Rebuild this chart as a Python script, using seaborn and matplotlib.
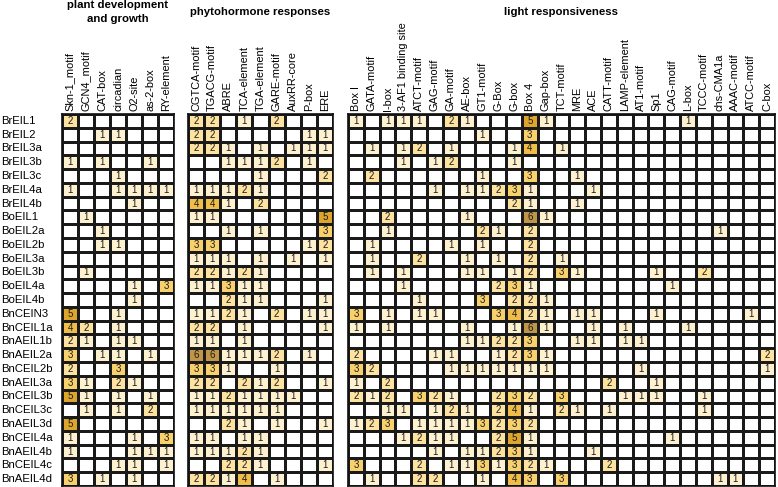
import matplotlib
matplotlib.use("Agg")
import matplotlib.pyplot as plt
import numpy as np
import seaborn as sns
from matplotlib.colors import ListedColormap

genes = [
    "BrEIL1", "BrEIL2", "BrEIL3a", "BrEIL3b", "BrEIL3c", "BrEIL4a", "BrEIL4b",
    "BoEIL1", "BoEIL2a", "BoEIL2b", "BoEIL3a", "BoEIL3b", "BoEIL4a", "BoEIL4b",
    "BnCEIN3", "BnCEIL1a", "BnAEIL1b", "BnAEIL2a", "BnCEIL2b", "BnAEIL3a",
    "BnCEIL3b", "BnCEIL3c", "BnAEIL3d", "BnCEIL4a", "BnAEIL4b", "BnCEIL4c",
    "BnAEIL4d",
]

dev_motifs = ["Skn-1_motif", "GCN4_motif", "CAT-box", "circadian", "O2-site",
              "as-2-box", "RY-element"]
hormone_motifs = ["CGTCA-motif", "TGACG-motif", "ABRE", "TCA-element",
                  "TGA-element", "GARE-motif", "AuxRR-core", "P-box", "ERE"]
light_motifs = ["Box I", "GATA-motif", "I-box", "3-AF1 binding site",
                "ATCT-motif", "GAG-motif", "GA-motif", "AE-box", "GT1-motif",
                "G-Box", "G-box", "Box 4", "Gap-box", "TCT-motif", "MRE", "ACE",
                "CATT-motif", "LAMP-element", "AT1-motif", "Sp1", "CAG-motif",
                "L-box", "TCCC-motif", "chs-CMA1a", "AAAC-motif", "ATCC-motif",
                "C-box"]

dev_counts = [
    [2, 0, 0, 0, 0, 0, 0],
    [0, 0, 1, 1, 0, 0, 0],
    [0, 0, 0, 0, 0, 0, 0],
    [1, 0, 1, 0, 0, 1, 0],
    [0, 0, 0, 1, 0, 0, 0],
    [1, 0, 0, 1, 1, 1, 1],
    [0, 0, 0, 0, 1, 0, 0],
    [0, 1, 0, 0, 0, 0, 0],
    [0, 0, 1, 0, 0, 0, 0],
    [0, 0, 1, 1, 0, 0, 0],
    [0, 0, 0, 0, 0, 0, 0],
    [0, 1, 0, 0, 0, 0, 0],
    [0, 0, 0, 0, 1, 0, 3],
    [0, 0, 0, 0, 1, 0, 0],
    [5, 0, 0, 1, 0, 0, 0],
    [4, 2, 0, 1, 0, 0, 0],
    [2, 1, 0, 1, 1, 0, 0],
    [3, 0, 1, 1, 0, 1, 0],
    [2, 0, 0, 3, 0, 0, 0],
    [3, 1, 0, 2, 1, 0, 0],
    [5, 1, 0, 1, 0, 1, 0],
    [0, 1, 0, 1, 0, 2, 0],
    [5, 0, 0, 0, 0, 0, 0],
    [1, 0, 0, 0, 1, 0, 3],
    [1, 0, 0, 0, 1, 1, 1],
    [0, 0, 0, 1, 1, 0, 1],
    [3, 0, 1, 0, 1, 0, 0],
]

hormone_counts = [
    [2, 2, 0, 1, 0, 2, 0, 0, 0],
    [2, 2, 0, 0, 0, 0, 0, 1, 1],
    [2, 2, 1, 0, 1, 0, 1, 1, 1],
    [0, 0, 1, 1, 1, 2, 0, 1, 0],
    [0, 0, 0, 0, 1, 0, 0, 0, 2],
    [1, 1, 1, 2, 1, 0, 0, 0, 0],
    [4, 4, 1, 0, 2, 0, 0, 0, 0],
    [1, 1, 0, 0, 0, 0, 0, 0, 5],
    [0, 0, 1, 0, 1, 0, 0, 0, 3],
    [3, 3, 0, 0, 0, 0, 0, 1, 2],
    [1, 1, 1, 0, 1, 0, 1, 0, 1],
    [2, 2, 1, 2, 1, 0, 0, 0, 0],
    [1, 1, 3, 1, 1, 0, 0, 0, 0],
    [0, 0, 2, 1, 1, 0, 0, 0, 1],
    [1, 1, 2, 1, 0, 2, 0, 1, 1],
    [2, 2, 0, 1, 0, 0, 0, 0, 1],
    [1, 1, 0, 1, 0, 0, 0, 0, 0],
    [6, 6, 1, 1, 1, 2, 0, 1, 0],
    [3, 3, 1, 0, 0, 1, 0, 0, 0],
    [2, 2, 0, 2, 1, 2, 0, 0, 1],
    [1, 1, 2, 1, 1, 1, 1, 0, 0],
    [1, 1, 1, 1, 1, 1, 0, 0, 0],
    [0, 0, 2, 1, 0, 1, 0, 0, 1],
    [1, 1, 0, 1, 1, 0, 0, 0, 0],
    [1, 1, 1, 2, 1, 0, 0, 0, 0],
    [0, 0, 2, 2, 1, 0, 0, 0, 1],
    [2, 2, 1, 4, 0, 1, 0, 0, 0],
]

light_counts = [
    [1, 0, 1, 1, 1, 0, 2, 1, 0, 0, 0, 5, 1, 0, 0, 0, 0, 0, 0, 0, 0, 1, 0, 0, 0, 0, 0],
    [0, 0, 0, 0, 0, 0, 0, 0, 1, 0, 0, 3, 0, 0, 0, 0, 0, 0, 0, 0, 0, 0, 0, 0, 0, 0, 0],
    [0, 1, 0, 1, 2, 0, 1, 0, 0, 0, 1, 4, 0, 1, 0, 0, 0, 0, 0, 0, 0, 0, 0, 0, 0, 0, 0],
    [0, 0, 0, 1, 0, 1, 2, 0, 0, 0, 1, 0, 0, 0, 0, 0, 0, 0, 0, 0, 0, 0, 0, 0, 0, 0, 0],
    [0, 2, 0, 0, 0, 0, 0, 0, 1, 0, 0, 3, 0, 0, 1, 0, 0, 0, 0, 0, 0, 0, 0, 0, 0, 0, 0],
    [0, 0, 0, 0, 0, 1, 0, 1, 1, 2, 3, 1, 0, 0, 0, 1, 0, 0, 0, 0, 0, 0, 0, 0, 0, 0, 0],
    [0, 0, 0, 0, 0, 0, 0, 0, 0, 0, 2, 1, 0, 0, 1, 0, 0, 0, 0, 0, 0, 0, 0, 0, 0, 0, 0],
    [0, 0, 2, 0, 0, 0, 0, 1, 0, 0, 0, 6, 1, 0, 0, 0, 0, 0, 0, 0, 0, 0, 0, 0, 0, 0, 0],
    [0, 0, 1, 0, 0, 0, 0, 0, 2, 1, 0, 2, 0, 0, 0, 0, 0, 0, 0, 0, 0, 0, 0, 1, 0, 0, 0],
    [0, 1, 0, 0, 0, 0, 1, 0, 1, 0, 0, 2, 0, 0, 0, 0, 0, 0, 0, 0, 0, 0, 0, 0, 0, 0, 0],
    [0, 1, 0, 0, 2, 0, 0, 1, 0, 1, 0, 2, 0, 1, 0, 0, 0, 0, 0, 0, 0, 0, 0, 0, 0, 0, 0],
    [0, 1, 0, 1, 0, 0, 0, 1, 1, 0, 1, 2, 0, 3, 1, 0, 0, 0, 0, 1, 0, 0, 2, 0, 0, 0, 0],
    [0, 0, 0, 1, 0, 0, 0, 0, 0, 2, 3, 1, 0, 0, 0, 0, 0, 0, 0, 0, 1, 0, 0, 0, 0, 0, 0],
    [0, 0, 0, 0, 1, 0, 0, 0, 3, 0, 2, 2, 1, 0, 0, 0, 0, 0, 0, 0, 0, 0, 0, 0, 0, 0, 0],
    [3, 0, 1, 0, 1, 1, 0, 0, 0, 3, 4, 2, 1, 0, 1, 1, 0, 0, 0, 1, 0, 0, 0, 0, 0, 1, 0],
    [1, 0, 1, 0, 0, 0, 0, 1, 0, 0, 1, 6, 1, 0, 0, 1, 0, 1, 0, 0, 0, 1, 0, 0, 0, 0, 0],
    [0, 0, 0, 0, 0, 0, 0, 1, 1, 2, 2, 3, 0, 0, 1, 1, 0, 1, 1, 0, 0, 0, 0, 0, 0, 0, 0],
    [2, 0, 0, 0, 0, 1, 1, 0, 0, 1, 2, 3, 1, 0, 0, 0, 0, 0, 0, 0, 0, 0, 0, 0, 0, 0, 2],
    [3, 2, 0, 0, 0, 0, 1, 1, 1, 1, 1, 1, 1, 0, 0, 0, 0, 0, 1, 0, 0, 0, 0, 0, 0, 0, 1],
    [1, 0, 2, 0, 0, 0, 0, 0, 0, 0, 0, 0, 0, 0, 0, 0, 2, 0, 0, 1, 0, 0, 0, 0, 0, 0, 0],
    [2, 1, 2, 0, 3, 2, 1, 0, 0, 2, 3, 2, 0, 3, 0, 0, 0, 1, 1, 1, 0, 0, 1, 0, 0, 0, 0],
    [0, 0, 1, 1, 0, 1, 2, 1, 0, 2, 4, 1, 0, 2, 1, 0, 1, 0, 0, 0, 0, 0, 1, 0, 0, 0, 0],
    [1, 2, 3, 0, 1, 1, 1, 1, 3, 2, 3, 2, 0, 0, 0, 0, 0, 0, 0, 0, 0, 0, 0, 0, 0, 0, 0],
    [0, 0, 0, 1, 2, 1, 1, 0, 0, 2, 5, 1, 0, 0, 0, 0, 0, 0, 0, 0, 1, 0, 0, 0, 0, 0, 0],
    [0, 0, 0, 0, 0, 1, 0, 1, 1, 2, 3, 1, 0, 0, 0, 1, 0, 0, 0, 0, 0, 0, 0, 0, 0, 0, 0],
    [3, 0, 0, 0, 2, 0, 1, 1, 3, 1, 3, 2, 1, 0, 0, 0, 2, 0, 0, 0, 0, 0, 0, 0, 0, 0, 0],
    [0, 1, 0, 0, 2, 2, 0, 0, 1, 0, 4, 3, 0, 3, 0, 0, 0, 0, 0, 0, 0, 0, 0, 1, 1, 0, 0],
]

panel_titles = ["plant development\nand growth", "phytohormone responses",
                "light responsiveness"]

plt.rcParams["font.family"] = ["Liberation Sans", "DejaVu Sans"]

W, H = 778, 487
# count 0..6 -> white to dark gold
cmap = ListedColormap(["#ffffff", "#fef1cf", "#fde2a0", "#f9d16c",
                       "#f0bd48", "#dea52c", "#bf9547"])

fig = plt.figure(figsize=(W / 100, H / 100), dpi=100)

# panel boxes in pixels: left, width
boxes = [(62, 112), (188, 145), (348, 427)]
grid_top, grid_bottom = 114, 486

panels = zip(panel_titles, [dev_motifs, hormone_motifs, light_motifs],
             [dev_counts, hormone_counts, light_counts], boxes)

for i, (title, motifs, counts, (left, width)) in enumerate(panels):
    ax = fig.add_axes([left / W, 1 - grid_bottom / H, width / W,
                       (grid_bottom - grid_top) / H])
    arr = np.array(counts)
    labels = np.where(arr > 0, arr.astype(str), "")
    sns.heatmap(
        arr, ax=ax, cmap=cmap, vmin=-0.5, vmax=6.5, cbar=False,
        linewidths=0.9, linecolor="#1a1a1a",
        annot=labels, fmt="", annot_kws=dict(fontsize=7, color="#1a1a1a"),
        xticklabels=motifs, yticklabels=genes if i == 0 else False,
    )
    ax.xaxis.tick_top()
    ax.tick_params(axis="x", rotation=90, length=0, pad=2, labelsize=7.9)
    if i == 0:
        ax.tick_params(axis="y", rotation=0, length=0, pad=43.5, labelsize=8.2)
        for lbl in ax.get_yticklabels():
            lbl.set_ha("left")
    ax.set_xlabel("")
    ax.set_ylabel("")
    for s in ax.spines.values():
        s.set_visible(True)
        s.set_linewidth(1.2)
        s.set_color("#111111")

    fig.text((left + width / 2) / W, 1 - 12 / H, title, ha="center",
             va="center", fontsize=8.2, fontweight="bold", linespacing=1.45)

fig.savefig("out.png", dpi=100)
